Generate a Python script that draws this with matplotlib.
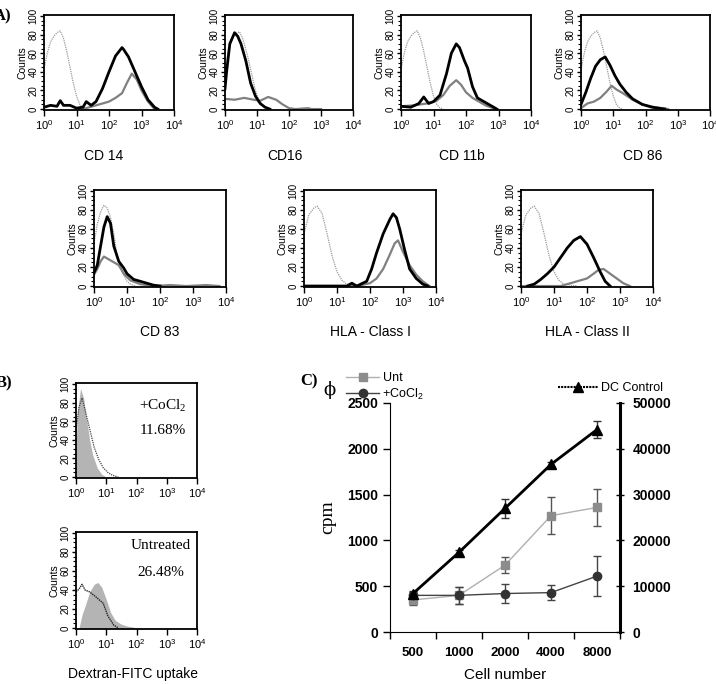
import numpy as np
import matplotlib
matplotlib.use("Agg")
import matplotlib.pyplot as plt
from matplotlib.ticker import MultipleLocator, LogLocator, NullFormatter, FixedLocator
from matplotlib.lines import Line2D

plt.rcParams['font.family'] = ['Liberation Sans', 'DejaVu Sans']
plt.rcParams['mathtext.fontset'] = 'custom'
plt.rcParams['mathtext.rm'] = 'Liberation Sans'
plt.rcParams['mathtext.default'] = 'regular'

# --- A) histograms: log10 fluorescence vs counts ---
# iso = isotype control (dotted), pos = untreated DC (black), trt = CoCl2 treated (gray)
iso_x = [0.0, 0.1, 0.2, 0.3, 0.4, 0.5, 0.6, 0.7, 0.8, 0.9, 1.0, 1.1, 1.2, 1.3]
iso_y = [42, 60, 72, 78, 82, 84, 76, 62, 45, 28, 14, 5, 1, 0]

cd14_pos_x = [0.0, 0.2, 0.4, 0.5, 0.6, 0.8, 1.0, 1.2, 1.3, 1.45, 1.6, 1.8, 2.0, 2.2, 2.4, 2.45, 2.6, 2.8, 3.0, 3.2, 3.4, 3.5]
cd14_pos_y = [2, 4, 3, 9, 4, 4, 1, 2, 8, 4, 8, 22, 40, 57, 66, 64, 56, 40, 24, 10, 2, 0]
cd14_trt_x = [1.2, 1.6, 2.0, 2.2, 2.4, 2.55, 2.7, 2.85, 3.0, 3.2, 3.4]
cd14_trt_y = [0, 4, 8, 12, 17, 28, 38, 32, 20, 8, 0]

cd16_iso_x = [0.0, 0.1, 0.2, 0.3, 0.45, 0.55, 0.7, 0.85, 0.95, 1.05, 1.2, 1.35]
cd16_iso_y = [40, 62, 75, 80, 83, 76, 58, 35, 20, 10, 3, 0]
cd16_pos_x = [0.0, 0.05, 0.15, 0.3, 0.4, 0.5, 0.65, 0.8, 0.95, 1.1, 1.25, 1.4]
cd16_pos_y = [22, 40, 70, 82, 78, 70, 52, 28, 14, 6, 2, 0]
cd16_trt_x = [0.0, 0.3, 0.6, 0.9, 1.1, 1.35, 1.6, 1.8, 2.0, 2.2, 2.6, 2.7, 3.0]
cd16_trt_y = [11, 10, 12, 10, 9, 13, 10, 5, 1, 0, 1, 0, 0]

cd11b_pos_x = [0.0, 0.3, 0.55, 0.7, 0.85, 1.0, 1.2, 1.4, 1.55, 1.7, 1.8, 1.95, 2.05, 2.2, 2.35, 2.55, 2.75, 2.95]
cd11b_pos_y = [3, 2, 6, 13, 6, 8, 15, 38, 60, 70, 66, 52, 44, 24, 12, 8, 4, 0]
cd11b_trt_x = [0.0, 0.4, 0.8, 1.1, 1.3, 1.5, 1.7, 1.85, 2.0, 2.2, 2.4, 2.6, 2.9]
cd11b_trt_y = [3, 4, 6, 9, 15, 25, 31, 26, 18, 12, 8, 4, 0]

cd86_pos_x = [0.0, 0.15, 0.3, 0.45, 0.6, 0.75, 0.9, 1.05, 1.2, 1.4, 1.6, 1.9, 2.2, 2.6]
cd86_pos_y = [5, 18, 33, 46, 53, 56, 47, 36, 27, 18, 11, 5, 2, 0]
cd86_trt_x = [0.0, 0.2, 0.4, 0.6, 0.8, 0.95, 1.1, 1.3, 1.6, 1.9, 2.3, 2.7]
cd86_trt_y = [1, 6, 8, 12, 19, 25, 21, 17, 10, 5, 2, 0]

cd83_iso_x = [0.0, 0.1, 0.2, 0.3, 0.4, 0.5, 0.6, 0.7, 0.85, 1.0, 1.1, 1.25]
cd83_iso_y = [45, 65, 78, 85, 82, 72, 55, 32, 15, 5, 2, 0]
cd83_pos_x = [0.0, 0.1, 0.2, 0.3, 0.4, 0.5, 0.6, 0.75, 0.9, 1.0, 1.2, 1.4, 1.6, 1.8, 2.0]
cd83_pos_y = [14, 22, 42, 62, 73, 66, 42, 26, 19, 13, 7, 5, 3, 1, 0]
cd83_trt_x = [0.0, 0.1, 0.2, 0.3, 0.45, 0.6, 0.75, 0.9, 1.1, 1.4, 1.8, 2.3, 2.8, 3.4, 3.8]
cd83_trt_y = [12, 18, 26, 31, 28, 25, 22, 13, 6, 2, 0, 1, 0, 1, 0]

hla_iso_x = [0.0, 0.15, 0.3, 0.4, 0.55, 0.7, 0.85, 1.0, 1.15, 1.3, 1.5, 1.7]
hla_iso_y = [55, 75, 82, 84, 76, 55, 32, 15, 6, 2, 1, 0]
hla1_pos_x = [0.0, 1.3, 1.45, 1.6, 1.9, 2.05, 2.2, 2.4, 2.6, 2.7, 2.8, 2.9, 3.05, 3.2, 3.4, 3.6, 3.75]
hla1_pos_y = [0, 0, 3, 0, 5, 18, 35, 55, 70, 76, 72, 60, 38, 18, 8, 2, 0]
hla1_trt_x = [0.0, 1.6, 2.0, 2.2, 2.4, 2.6, 2.75, 2.85, 3.0, 3.2, 3.4, 3.6, 3.8]
hla1_trt_y = [0, 0, 3, 8, 18, 33, 45, 48, 36, 22, 12, 5, 0]

hla2_pos_x = [0.2, 0.4, 0.6, 0.8, 1.0, 1.2, 1.4, 1.6, 1.8, 2.0, 2.2, 2.4, 2.55, 2.7]
hla2_pos_y = [0, 2, 7, 13, 20, 30, 40, 48, 52, 44, 30, 15, 5, 0]
hla2_trt_x = [0.0, 1.2, 1.5, 1.8, 2.0, 2.2, 2.35, 2.5, 2.7, 2.9, 3.1, 3.3]
hla2_trt_y = [0, 0, 3, 6, 8, 13, 17, 18, 13, 8, 3, 0]

# --- B) dextran-FITC uptake ---
cocl_fill_x = [0.0, 0.05, 0.15, 0.25, 0.35, 0.45, 0.55, 0.7, 0.85, 1.0]
cocl_fill_y = [30, 70, 95, 85, 62, 40, 24, 10, 3, 0]
cocl_line_x = [0.0, 0.1, 0.2, 0.3, 0.45, 0.6, 0.75, 0.9, 1.05, 1.2, 1.4]
cocl_line_y = [50, 75, 85, 72, 52, 32, 19, 10, 5, 2, 0]
unt_fill_x = [0.1, 0.2, 0.32, 0.45, 0.6, 0.72, 0.85, 1.0, 1.15, 1.3, 1.5, 1.7, 1.9, 2.05]
unt_fill_y = [0, 14, 25, 38, 46, 48, 43, 30, 16, 8, 4, 2, 1, 0]
unt_line_x = [0.0, 0.1, 0.2, 0.3, 0.45, 0.65, 0.9, 1.05, 1.25, 1.4]
unt_line_y = [38, 41, 46, 40, 38, 33, 26, 13, 3, 0]

# --- C) proliferation ---
cell_numbers = ['500', '1000', '2000', '4000', '8000']
unt_cpm = [350, 400, 730, 1270, 1360]
unt_err = [50, 90, 90, 200, 200]
cocl_cpm = [400, 400, 420, 430, 610]
cocl_err = [40, 90, 100, 80, 220]
dc_cpm = [8400, 17400, 27000, 36600, 44200]
dc_err = [600, 600, 2000, 600, 1800]

W, H = 716, 684
fig = plt.figure(figsize=(W / 100, H / 100), dpi=100)


def box(left, top, right, bottom):
    return [left / W, 1 - bottom / H, (right - left) / W, (bottom - top) / H]


def hist_axes(rect):
    ax = fig.add_axes(rect)
    ax.set_xscale('log')
    ax.set_xlim(1, 1e4)
    ax.set_ylim(-1, 101)
    ax.xaxis.set_major_locator(FixedLocator([1, 10, 100, 1000, 10000]))
    ax.set_xticklabels(['$10^{0}$', '$10^{1}$', '$10^{2}$', '$10^{3}$', '$10^{4}$'])
    ax.xaxis.set_minor_locator(LogLocator(base=10, subs=np.arange(2, 10)))
    ax.xaxis.set_minor_formatter(NullFormatter())
    ax.yaxis.set_major_locator(MultipleLocator(20))
    ax.yaxis.set_minor_locator(MultipleLocator(5))
    ax.tick_params(axis='x', which='major', labelsize=8, length=4, width=1, pad=2)
    ax.tick_params(axis='x', which='minor', length=2.5, width=0.8)
    ax.tick_params(axis='y', which='major', labelsize=7, length=3, width=1, pad=1,
                   labelrotation=90)
    ax.tick_params(axis='y', which='minor', length=2, width=0.8)
    for lab in ax.get_yticklabels():
        lab.set_va('center')
    for s in ax.spines.values():
        s.set_linewidth(1.3)
    ax.set_ylabel('Counts', fontsize=7.5, labelpad=1)
    return ax


def draw_hist(ax, iso, pos, trt):
    ax.plot(10 ** np.array(iso[0]), iso[1], color='#9a9a9a', lw=0.9, ls=(0, (1, 0.8)))
    ax.plot(10 ** np.array(trt[0]), trt[1], color='#808080', lw=1.6)
    ax.plot(10 ** np.array(pos[0]), pos[1], color='black', lw=2.0)


# row 1
panels_a1 = [
    ((44, 15, 174, 110), (iso_x, iso_y), (cd14_pos_x, cd14_pos_y), (cd14_trt_x, cd14_trt_y), 'CD 14', 104),
    ((225, 15, 353, 110), (cd16_iso_x, cd16_iso_y), (cd16_pos_x, cd16_pos_y), (cd16_trt_x, cd16_trt_y), 'CD16', 285),
    ((401, 15, 531, 110), (iso_x, iso_y), (cd11b_pos_x, cd11b_pos_y), (cd11b_trt_x, cd11b_trt_y), 'CD 11b', 462),
    ((581, 15, 710, 110), (iso_x, iso_y), (cd86_pos_x, cd86_pos_y), (cd86_trt_x, cd86_trt_y), 'CD 86', 643),
]
for (l, t, r, b), iso, pos, trt, name, cx in panels_a1:
    ax = hist_axes(box(l, t, r, b))
    draw_hist(ax, iso, pos, trt)
    fig.text(cx / W, 1 - 156 / H, name, ha='center', va='center', fontsize=10)

panels_a2 = [
    ((94, 190, 226, 287), (cd83_iso_x, cd83_iso_y), (cd83_pos_x, cd83_pos_y), (cd83_trt_x, cd83_trt_y), 'CD 83', 160),
    ((304, 190, 436, 287), (hla_iso_x, hla_iso_y), (hla1_pos_x, hla1_pos_y), (hla1_trt_x, hla1_trt_y), 'HLA - Class I', 370),
    ((521, 190, 653, 287), (hla_iso_x, hla_iso_y), (hla2_pos_x, hla2_pos_y), (hla2_trt_x, hla2_trt_y), 'HLA - Class II', 587),
]
for (l, t, r, b), iso, pos, trt, name, cx in panels_a2:
    ax = hist_axes(box(l, t, r, b))
    draw_hist(ax, iso, pos, trt)
    fig.text(cx / W, 1 - 332 / H, name, ha='center', va='center', fontsize=10)

# B panels
axb1 = hist_axes(box(76, 383, 197, 478))
axb1.fill_between(10 ** np.array(cocl_fill_x), cocl_fill_y, 0, color='#b4b4b4', lw=0)
axb1.plot(10 ** np.array(cocl_line_x), cocl_line_y, color='#444444', lw=0.9, ls=(0, (1, 0.8)))
axb1.text(0.72, 0.76, '+CoCl$_{2}$', transform=axb1.transAxes, ha='center', va='center',
          fontsize=11, family='Liberation Serif', math_fontfamily='stix')
axb1.text(0.72, 0.5, '11.68%', transform=axb1.transAxes, ha='center', va='center',
          fontsize=11, family='Liberation Serif')

axb2 = hist_axes(box(76, 532, 197, 629))
axb2.fill_between(10 ** np.array(unt_fill_x), unt_fill_y, 0, color='#b4b4b4', lw=0)
axb2.plot(10 ** np.array(unt_line_x), unt_line_y, color='#222222', lw=1.0, ls=(0, (1, 0.6)))
axb2.text(0.7, 0.86, 'Untreated', transform=axb2.transAxes, ha='center', va='center',
          fontsize=11, family='Liberation Serif')
axb2.text(0.7, 0.58, '26.48%', transform=axb2.transAxes, ha='center', va='center',
          fontsize=11, family='Liberation Serif')
fig.text(133 / W, 1 - 674 / H, 'Dextran-FITC uptake', ha='center', va='center', fontsize=10)

# C panel
axc = fig.add_axes(box(390, 403, 620, 632))
xpos = np.arange(len(cell_numbers))
axc.errorbar(xpos, unt_cpm, yerr=unt_err, color='#b0b0b0', lw=1, marker='s', ms=6,
             mfc='#8c8c8c', mec='#8c8c8c', ecolor='#555555', elinewidth=1, capsize=3)
axc.errorbar(xpos, cocl_cpm, yerr=cocl_err, color='#444444', lw=1, marker='o', ms=6,
             mfc='#333333', mec='#333333', ecolor='#444444', elinewidth=1, capsize=3)
axc.set_xlim(-0.5, len(cell_numbers) - 0.5)
axc.set_ylim(0, 2500)
axc.set_xticks(xpos)
axc.set_xticklabels(cell_numbers, fontweight='bold', fontsize=9.5)
axc.xaxis.set_minor_locator(FixedLocator(np.arange(-0.5, len(cell_numbers), 1.0)))
axc.tick_params(axis='x', which='major', length=0, pad=11)
axc.tick_params(axis='x', which='minor', length=5, width=1)
axc.yaxis.set_major_locator(MultipleLocator(500))
axc.tick_params(axis='y', labelsize=10, length=5, width=1)
for lab in axc.get_yticklabels():
    lab.set_fontweight('bold')
axc.spines['top'].set_visible(False)
axc.spines['right'].set_visible(False)
axc.set_ylabel('cpm', family='Liberation Serif', fontsize=14, labelpad=8)
axc.set_xlabel('Cell number', fontsize=11, labelpad=6)

axr = axc.twinx()
axr.errorbar(xpos, dc_cpm, yerr=dc_err, color='black', lw=2, marker='^', ms=7,
             ecolor='#333333', elinewidth=1, capsize=3)
axr.set_ylim(0, 50000)
axr.yaxis.set_major_locator(MultipleLocator(10000))
axr.tick_params(axis='y', labelsize=10, length=6, width=1, direction='inout', pad=6)
for lab in axr.get_yticklabels():
    lab.set_fontweight('bold')
for side in ['top', 'left', 'bottom']:
    axr.spines[side].set_visible(False)
axr.spines['right'].set_linewidth(2.2)

h_unt = Line2D([], [], color='#b0b0b0', lw=1, marker='s', ms=6, mfc='#8c8c8c', mec='#8c8c8c')
h_cocl = Line2D([], [], color='#444444', lw=1, marker='o', ms=6, mfc='#333333', mec='#333333')
h_dc = Line2D([], [], color='black', lw=1.5, ls=(0, (1, 0.5)), marker='^', ms=7)
fig.legend([h_unt, h_cocl], ['Unt', '+CoCl$_{2}$'], loc='upper left',
           bbox_to_anchor=(340 / W, 1 - 366 / H), frameon=False, fontsize=9,
           handlelength=2.6, handletextpad=0.3, labelspacing=0.2, borderpad=0)
fig.legend([h_dc], ['DC Control'], loc='upper left',
           bbox_to_anchor=(552 / W, 1 - 376 / H), frameon=False, fontsize=9,
           handlelength=3.2, handletextpad=0.2, borderpad=0)
fig.text(330 / W, 1 - 390 / H, '\u03d5', ha='center', va='center', fontsize=13,
         family='DejaVu Serif')

# panel letters
for x, y, s in [(-6, 16, 'A)'), (-4, 383, 'B)'), (300, 381, 'C)')]:
    fig.text(x / W, 1 - y / H, s, ha='left', va='center', fontsize=12,
             fontweight='bold', family='Liberation Serif')

fig.savefig('out.png', dpi=100)
